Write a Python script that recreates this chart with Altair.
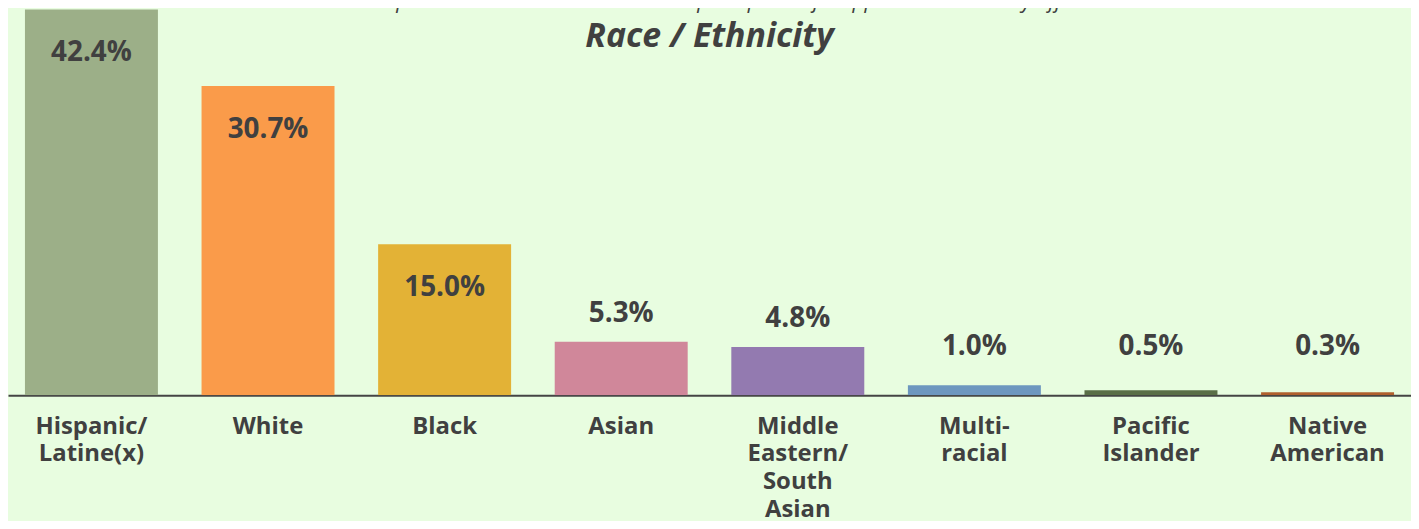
import altair as alt
import pandas as pd

categories = ["Hispanic/|Latine(x)", "White", "Black", "Asian",
              "Middle|Eastern/|South|Asian", "Multi-|racial", "Pacific|Islander", "Native|American"]
values = [42.4, 30.7, 15.0, 5.3, 4.8, 1.0, 0.5, 0.3]
colors = ["#9caf88", "#fa9b4a", "#e3b236", "#d0879a", "#937ab0", "#6d97bf", "#5a6e47", "#b0602e"]
labels = ["42.4%", "30.7%", "15.0%", "5.3%", "4.8%", "1.0%", "0.5%", "0.3%"]

df = pd.DataFrame({"cat": categories, "val": values, "color": colors, "label": labels})

YMAX = 38.3
TXT = "#404040"

x = alt.X("cat:N", sort=categories, title=None,
          scale=alt.Scale(paddingInner=0.247, paddingOuter=0.096),
          axis=alt.Axis(labelAngle=0, labelExpr="split(datum.value, '|')",
                        labelFont="Open Sans", labelFontSize=24, labelFontWeight="bold",
                        labelColor=TXT, labelLineHeight=28, labelPadding=19, ticks=False,
                        domainColor="#444444", domainWidth=2, labelBaseline="top"))
yscale = alt.Scale(domain=[0, YMAX])

bars = alt.Chart(df).mark_bar(clip=True).encode(
    x=x,
    y=alt.Y("val:Q", scale=yscale, axis=None),
    color=alt.Color("color:N", scale=None),
)

inside = alt.Chart(df).transform_filter("datum.val >= 15").transform_calculate(
    ly=f"min(datum.val, {YMAX})"
).mark_text(font="Open Sans", fontSize=28, fontWeight="bold", color=TXT,
            baseline="middle", dy=44).encode(
    x=alt.X("cat:N", sort=categories),
    y=alt.Y("ly:Q", scale=yscale),
    text="label:N",
)

outside = alt.Chart(df).transform_filter("datum.val < 15").transform_calculate(
    ly="max(datum.val, 2)"
).mark_text(font="Open Sans", fontSize=28, fontWeight="bold", color=TXT,
            baseline="middle", dy=-28).encode(
    x=alt.X("cat:N", sort=categories),
    y=alt.Y("ly:Q", scale=yscale),
    text="label:N",
)

chart = alt.layer(bars, inside, outside).properties(
    width=1411, height=388,
    autosize=alt.AutoSizeParams(type="none"),
    padding={"left": 0, "top": 0, "right": 0, "bottom": 125},
    background="#e8fde0",
    title=alt.TitleParams(
        text="The data presented below is based on the perception of stopped individuals by officers.",
        subtitle="Race / Ethnicity",
        anchor="middle", orient="top", offset=-45,
        font="Open Sans", fontSize=21, fontStyle="italic", fontWeight="normal", color=TXT,
        subtitleFont="Open Sans", subtitleFontSize=34, subtitleFontStyle="italic",
        subtitleFontWeight="bold", subtitleColor=TXT, subtitlePadding=8,
    ),
).configure_view(stroke=None)

chart.save("out.html", embed_options={"renderer": "svg", "actions": False})
